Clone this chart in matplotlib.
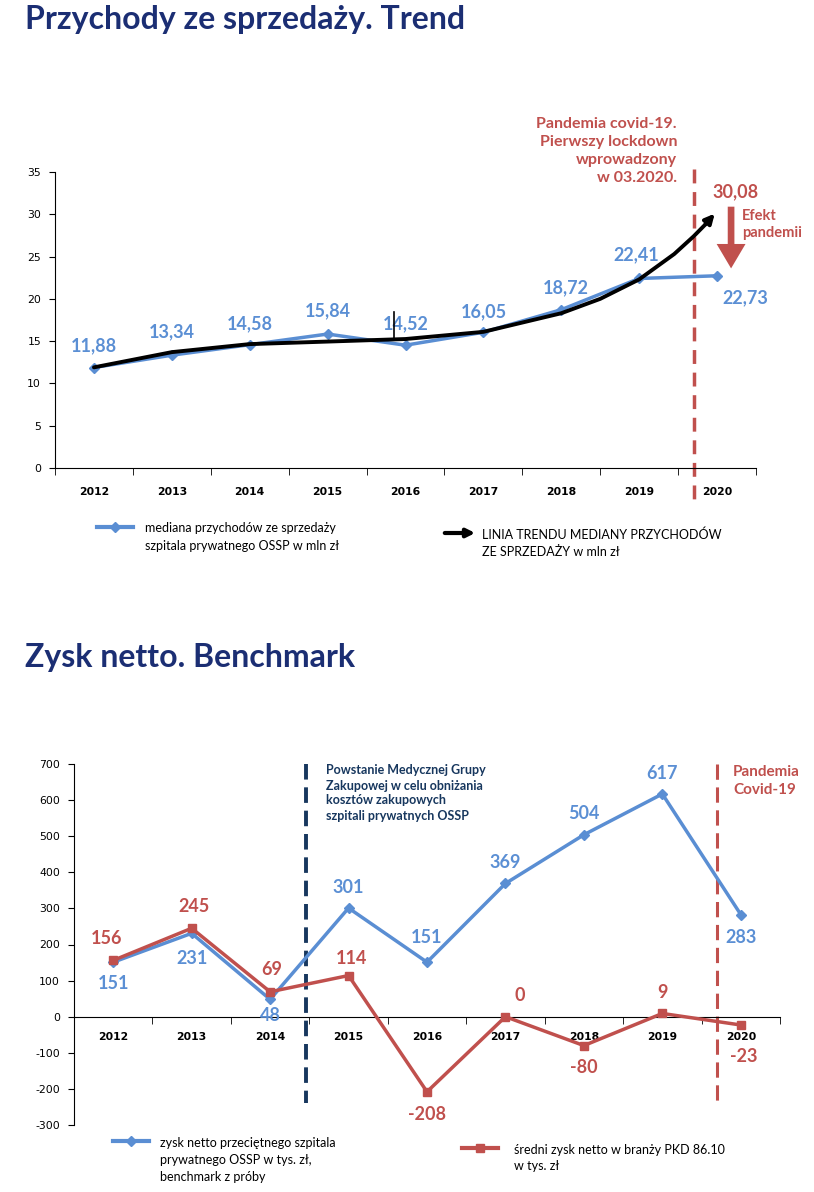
import numpy as np
import matplotlib
matplotlib.use('Agg')
import matplotlib.pyplot as plt
from matplotlib.lines import Line2D
from matplotlib.patches import FancyArrowPatch

# data
years = ['2012', '2013', '2014', '2015', '2016', '2017', '2018', '2019', '2020']
revenue = [11.88, 13.34, 14.58, 15.84, 14.52, 16.05, 18.72, 22.41, 22.73]
revenue_labels = ['11,88', '13,34', '14,58', '15,84', '14,52', '16,05', '18,72', '22,41', '22,73']
trend_x = [0, 1, 2, 3, 4, 5, 6, 6.5, 7, 7.45, 7.7, 7.85]
trend_y = [11.9, 13.7, 14.65, 14.95, 15.25, 16.1, 18.3, 20.0, 22.3, 25.3, 27.4, 28.8]
trend_end = (7.97, 30.08)

profit_ossp = [151, 231, 48, 301, 151, 369, 504, 617, 283]
profit_pkd = [156, 245, 69, 114, -208, 0, -80, 9, -23]

BLUE = '#5A8ED3'
BLUE_TXT = '#5B8FD4'
RED = '#C0504D'
NAVY = '#1B2E73'
DNAVY = '#17375E'

plt.rcParams['font.family'] = ['Lato', 'DejaVu Sans']
plt.rcParams['axes.unicode_minus'] = False

W, H = 814, 1192
fig = plt.figure(figsize=(W / 100, H / 100), dpi=100)


def fx(px):
    return px / W


def fy(py):
    return 1 - py / H


def style_ticks(ax):
    for lab in ax.get_yticklabels():
        lab.set_fontfamily('DejaVu Sans')
        lab.set_fontsize(7.8)
    for lab in ax.get_xticklabels():
        lab.set_fontfamily('DejaVu Sans')
        lab.set_fontsize(7.8)
        lab.set_fontweight('bold')


# ---------- top chart ----------
fig.text(fx(25), fy(20), 'Przychody ze sprzedaży. Trend', fontsize=23, fontweight='bold',
         color=NAVY, va='center', ha='left')

ax1 = fig.add_axes([fx(55), fy(468), fx(756) - fx(55), fy(172) - fy(468)])
x = np.arange(len(years))
ax1.plot(x, revenue, color=BLUE, lw=2.5, marker='D', ms=5, zorder=3)
ax1.plot(trend_x, trend_y, color='black', lw=2.8, zorder=4, solid_capstyle='round',
         solid_joinstyle='round')
ax1.annotate('', xy=trend_end, xytext=(trend_x[-1], trend_y[-1]),
             arrowprops=dict(arrowstyle='-|>', color='black', lw=2.8, mutation_scale=14,
                             shrinkA=0, shrinkB=0), zorder=4)
ax1.set_xlim(-0.5, 8.5)
ax1.set_ylim(0, 35)
ax1.set_yticks(range(0, 36, 5))
ax1.set_xticks(x)
ax1.set_xticklabels(years)
ax1.set_xticks(np.arange(-0.5, 8.6, 1), minor=True)
ax1.tick_params(axis='x', which='major', length=0, pad=14)
ax1.tick_params(axis='x', which='minor', length=5, direction='out')
ax1.tick_params(axis='y', length=4, direction='out', pad=6)
ax1.spines['top'].set_visible(False)
ax1.spines['right'].set_visible(False)
style_ticks(ax1)

label_dx = [0, 0, 0, 0, 0, 0, 5, -3, 28]
label_dy = [22, 23, 21, 23, 21, 21, 22, 24, -22]
for i, (v, s) in enumerate(zip(revenue, revenue_labels)):
    ax1.annotate(s, (i, v), xytext=(label_dx[i] * 0.72, label_dy[i] * 0.72),
                 textcoords='offset points', ha='center', va='center',
                 fontsize=13, fontweight='bold', color=BLUE_TXT, zorder=5)
# stray cursor mark near 2016 label
ax1.plot([3.85, 3.85], [15.4, 18.45], color='black', lw=1.2, zorder=6)

ax1.plot([7.705, 7.705], [35.3, -4.4], color=RED, lw=2.5, ls=(0, (4, 2.5)),
         clip_on=False, zorder=2)
ax1.text(7.94, 32.7, '30,08', fontsize=13, fontweight='bold', color=RED,
         ha='left', va='center')
ax1.annotate('', xy=(8.18, 23.6), xytext=(8.18, 30.9),
             arrowprops=dict(arrowstyle='simple,head_length=1.1,head_width=1.3,tail_width=0.3',
                             color=RED, lw=0, mutation_scale=16, shrinkA=0, shrinkB=0),
             annotation_clip=False)
ax1.text(8.32, 28.8, 'Efekt\npandemii', fontsize=10.5, fontweight='bold', color=RED,
         ha='left', va='center', linespacing=1.2)
fig.text(fx(677), fy(151), 'Pandemia covid-19.\nPierwszy lockdown\nwprowadzony\nw 03.2020.',
         fontsize=11.5, fontweight='bold', color=RED, ha='right', va='center', linespacing=1.35)

# top legend
fig.add_artist(Line2D([fx(97), fx(115), fx(133)], [fy(527)] * 3, color=BLUE, lw=3,
                      marker='D', ms=5, markevery=[1]))
fig.text(fx(145), fy(537), 'mediana przychodów ze sprzedaży\nszpitala prywatnego OSSP w mln zł',
         fontsize=9, color='black', ha='left', va='center', linespacing=1.5)
fig.add_artist(FancyArrowPatch((fx(442), fy(533)), (fx(478), fy(533)),
                               transform=fig.transFigure, arrowstyle='-|>',
                               color='black', lw=3, mutation_scale=12))
fig.text(fx(482), fy(543), 'LINIA TRENDU MEDIANY PRZYCHODÓW\nZE SPRZEDAŻY w mln zł',
         fontsize=9, color='black', ha='left', va='center', linespacing=1.5)

# ---------- bottom chart ----------
fig.text(fx(25), fy(657), 'Zysk netto. Benchmark', fontsize=23, fontweight='bold',
         color=NAVY, va='center', ha='left')

ax2 = fig.add_axes([fx(74), fy(1125), fx(780) - fx(74), fy(764) - fy(1125)])
ax2.plot(x, profit_ossp, color=BLUE, lw=2.5, marker='D', ms=5, zorder=3)
ax2.plot(x, profit_pkd, color=RED, lw=2.5, marker='s', ms=6, zorder=4)
ax2.set_xlim(-0.5, 8.5)
ax2.set_ylim(-300, 700)
ax2.set_yticks(range(-300, 701, 100))
ax2.set_xticks(x)
ax2.set_xticklabels(years)
ax2.set_xticks(np.arange(-0.5, 8.6, 1), minor=True)
ax2.spines['bottom'].set_position(('data', 0))
ax2.spines['top'].set_visible(False)
ax2.spines['right'].set_visible(False)
ax2.tick_params(axis='x', which='major', length=0, pad=11)
ax2.tick_params(axis='x', which='minor', length=5, direction='out')
ax2.tick_params(axis='y', length=4, direction='out', pad=6)
style_ticks(ax2)

ossp_dx = [0, 0, 0, 0, 0, 0, 0, 0, 0]
ossp_dy = [-21, -25, -16, 21, 25, 21, 21, 20, -23]
pkd_dx = [-7, 2, 2, 3, 0, 14, 0, 0, 3]
pkd_dy = [22, 22, 22, 17, -23, 21, -22, 21, -31]
for i, v in enumerate(profit_ossp):
    ax2.annotate(str(v), (i, v), xytext=(ossp_dx[i] * 0.72, ossp_dy[i] * 0.72),
                 textcoords='offset points', ha='center', va='center',
                 fontsize=13, fontweight='bold', color=BLUE_TXT, zorder=5)
for i, v in enumerate(profit_pkd):
    ax2.annotate(str(v), (i, v), xytext=(pkd_dx[i] * 0.72, pkd_dy[i] * 0.72),
                 textcoords='offset points', ha='center', va='center',
                 fontsize=13, fontweight='bold', color=RED, zorder=5)

ax2.plot([2.455, 2.455], [700, -240], color=DNAVY, lw=2.8, ls=(0, (4, 2)), zorder=2,
         clip_on=False)
ax2.plot([7.7, 7.7], [700, -240], color=RED, lw=2.2, ls=(0, (5, 2.5)), zorder=2,
         clip_on=False)
fig.text(fx(326), fy(793), 'Powstanie Medycznej Grupy\nZakupowej w celu obniżania\n'
         'kosztów zakupowych\nszpitali prywatnych OSSP',
         fontsize=9, fontweight='bold', color=DNAVY, ha='left', va='center', linespacing=1.3)
fig.text(fx(733), fy(781), 'Pandemia\nCovid-19', fontsize=11, fontweight='bold', color=RED,
         ha='left', va='center', linespacing=1.3)

# bottom legend
fig.add_artist(Line2D([fx(113), fx(131), fx(149)], [fy(1141)] * 3, color=BLUE, lw=3,
                      marker='D', ms=5, markevery=[1]))
fig.text(fx(160), fy(1160), 'zysk netto przeciętnego szpitala\nprywatnego OSSP w tys. zł,\n'
         'benchmark z próby', fontsize=9, color='black', ha='left', va='center', linespacing=1.5)
fig.add_artist(Line2D([fx(462), fx(480), fx(498)], [fy(1148)] * 3, color=RED, lw=3,
                      marker='s', ms=6, markevery=[1]))
fig.text(fx(514), fy(1158), 'średni zysk netto w branży PKD 86.10\nw tys. zł',
         fontsize=9, color='black', ha='left', va='center', linespacing=1.5)

fig.savefig('out.png', dpi=100, facecolor='white')
